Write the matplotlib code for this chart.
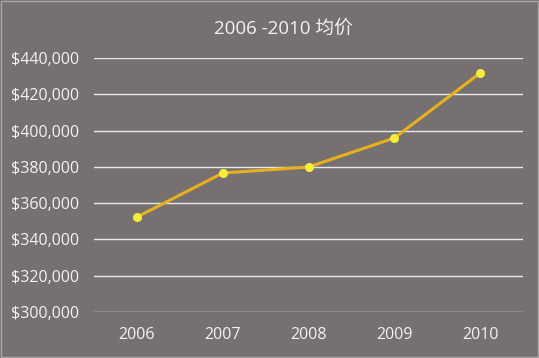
import matplotlib
matplotlib.use("Agg")
import matplotlib.pyplot as plt
from matplotlib.ticker import FuncFormatter

plt.rcParams['font.family'] = ['Open Sans', 'Noto Sans CJK SC', 'DejaVu Sans']

# data
years = ['2006', '2007', '2008', '2009', '2010']
avg_price = [352300, 376600, 379900, 395900, 431700]
yticks = [300000, 320000, 340000, 360000, 380000, 400000, 420000, 440000]

bg = '#767170'
txt = '#f2f2f2'

fig = plt.figure(figsize=(5.39, 3.58), dpi=100, facecolor=bg)
ax = fig.add_axes([0.1744, 0.1285, 0.796, 0.7095], facecolor=bg)

x = list(range(len(years)))
ax.plot(x, avg_price, color='#e6b01e', lw=2.2, marker='o', ms=5.5,
        mfc='#f4ee3a', mec='#f4ee3a', zorder=3)

ax.set_xlim(-0.5, len(years) - 0.5)
ax.set_ylim(yticks[0], yticks[-1])
ax.set_yticks(yticks)
ax.yaxis.set_major_formatter(FuncFormatter(lambda v, p: '${:,.0f}'.format(v)))
ax.set_xticks(x)
ax.set_xticklabels(years)
ax.grid(axis='y', color='#e8e8e8', lw=1)
ax.set_axisbelow(True)
for s in ax.spines.values():
    s.set_visible(False)
ax.tick_params(length=0, colors=txt, labelsize=11.5)
ax.tick_params(axis='y', pad=11)
ax.tick_params(axis='x', pad=11)

fig.text(0.525, 0.92, '2006 -2010 均价', ha='center', va='center',
         color=txt, fontsize=13.5)

# thin light frame round the chart
fig.patches.append(plt.Rectangle((0.002, 0.003), 0.996, 0.994, transform=fig.transFigure,
                                 fill=False, ec='#a9a6a5', lw=1))

fig.savefig('out.png', dpi=100, facecolor=bg)
